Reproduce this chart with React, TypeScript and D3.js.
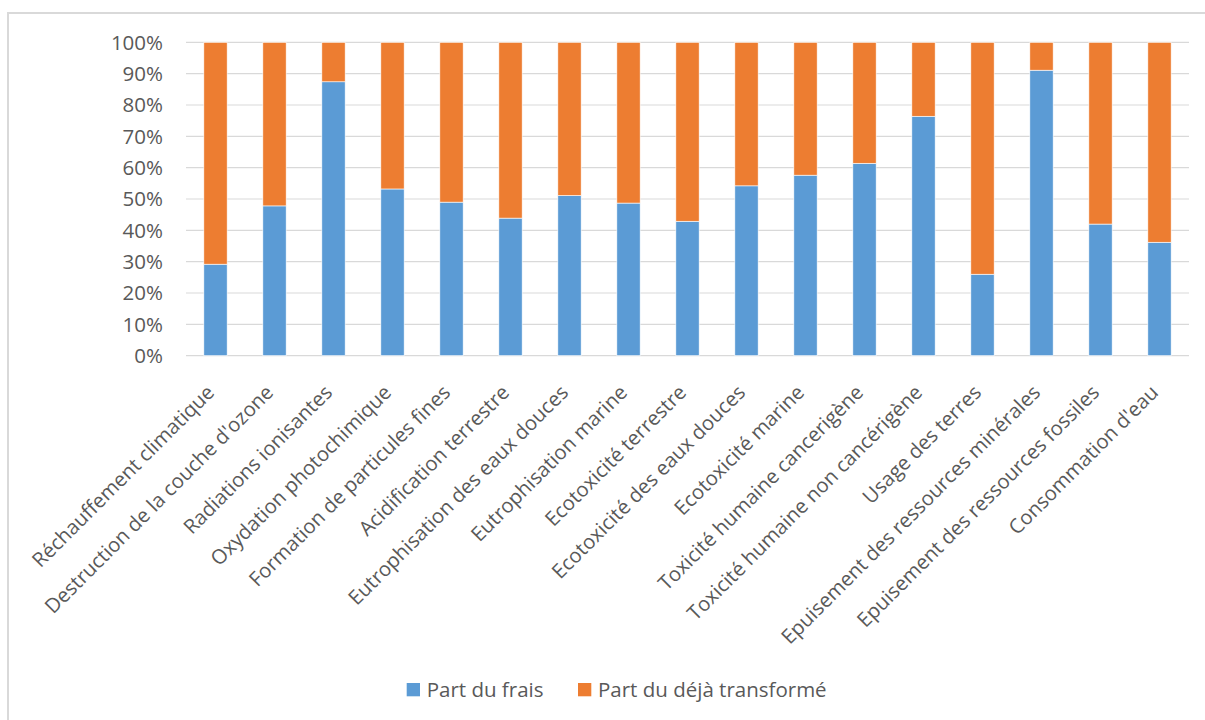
import React from "react";
import * as d3 from "d3";

const categories: string[] = [
  "Réchauffement climatique",
  "Destruction de la couche d'ozone",
  "Radiations ionisantes",
  "Oxydation photochimique",
  "Formation de particules fines",
  "Acidification terrestre",
  "Eutrophisation des eaux douces",
  "Eutrophisation marine",
  "Ecotoxicité terrestre",
  "Ecotoxicité des eaux douces",
  "Ecotoxicité marine",
  "Toxicité humaine cancerigène",
  "Toxicité humaine non cancérigène",
  "Usage des terres",
  "Epuisement des ressources minérales",
  "Epuisement des ressources fossiles",
  "Consommation d'eau",
];

const partFrais: number[] = [
  29.2, 47.8, 87.4, 53.2, 49.0, 43.9, 51.1, 48.7, 42.9, 54.2, 57.6, 61.4, 76.4,
  26.0, 91.1, 42.0, 36.2,
];
const partTransforme: number[] = partFrais.map((v) => 100 - v);

const seriesNames: string[] = ["Part du frais", "Part du déjà transformé"];
const seriesColors: string[] = ["#5B9BD5", "#ED7D31"];
const yTicks: number[] = [0, 10, 20, 30, 40, 50, 60, 70, 80, 90, 100];

const W = 1205;
const H = 720;
const plotLeft = 186;
const plotRight = 1189;
const plotTop = 42.3;
const plotBottom = 355.7;
const FONT = "'Open Sans', 'Liberation Sans', sans-serif";

export default function App() {
  const x = d3
    .scaleBand<string>()
    .domain(categories)
    .range([plotLeft, plotRight])
    .paddingInner(0.605)
    .paddingOuter(0.3025);
  const y = d3.scaleLinear().domain([0, 100]).range([plotBottom, plotTop]);

  const rows = categories.map((c, i) => ({
    cat: c,
    frais: partFrais[i],
    transforme: partTransforme[i],
  }));
  const stack = d3.stack<any>().keys(["frais", "transforme"])(rows);

  return (
    <svg
      width={W}
      height={H}
      style={{ position: "absolute", left: 0, top: 0, background: "#fff" }}
      fontFamily={FONT}
    >
      <rect x={8} y={13} width={1300} height={800} fill="#fff" stroke="#D9D9D9" strokeWidth={2} />
      {yTicks.map((t) => (
        <g key={t}>
          <line
            x1={plotLeft}
            x2={plotRight}
            y1={y(t)}
            y2={y(t)}
            stroke="#D9D9D9"
            strokeWidth={1.2}
          />
          <text
            x={163}
            y={y(t)}
            dy="0.36em"
            textAnchor="end"
            fontSize={20.5}
            fill="#595959"
          >
            {t}%
          </text>
        </g>
      ))}
      {stack.map((layer, si) => (
        <g key={si} fill={seriesColors[si]}>
          {layer.map((d: any, i: number) => (
            <rect
              key={i}
              x={x(categories[i])}
              width={x.bandwidth()}
              y={y(d[1])}
              height={y(d[0]) - y(d[1])}
              stroke="#fff"
              strokeWidth={0.6}
            />
          ))}
        </g>
      ))}
      {categories.map((c) => {
        const cx = (x(c) as number) + x.bandwidth() / 2;
        return (
          <text
            key={c}
            transform={`translate(${cx},${plotBottom + 38}) rotate(-45)`}
            textAnchor="end"
            fontSize={20.2}
            fill="#595959"
          >
            {c}
          </text>
        );
      })}
      {seriesNames.map((n, i) => {
        const lx = [406.7, 578][i];
        return (
          <g key={n}>
            <rect x={lx} y={683} width={13.3} height={13.3} fill={seriesColors[i]} />
            <text x={lx + 20} y={697} fontSize={20.5} fill="#595959">
              {n}
            </text>
          </g>
        );
      })}
    </svg>
  );
}
